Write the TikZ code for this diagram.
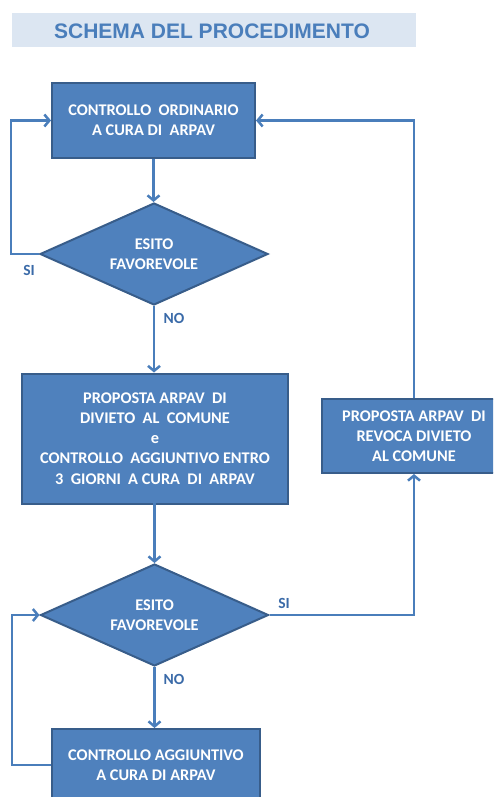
\documentclass[tikz,border=0pt]{standalone}
\usepackage{fontspec}
\setmainfont{Carlito}
\newfontfamily\titlefont{Liberation Sans}
\usetikzlibrary{shapes.geometric,arrows.meta}
\definecolor{boxfill}{HTML}{4F81BD}
\definecolor{boxline}{HTML}{385D8A}
\definecolor{conn}{HTML}{4A7EBB}
\definecolor{lbl}{HTML}{3A6AA8}
\definecolor{titlebg}{HTML}{DCE6F2}
\definecolor{titlefg}{HTML}{4A7EBB}
\tikzset{
  procbox/.style={rectangle, draw=boxline, fill=boxfill, line width=2pt, text=white,
    font=\fontsize{16.3}{20.2}\selectfont\bfseries, align=center, inner sep=0pt},
  decbox/.style={diamond, aspect=2.25, draw=boxline, fill=boxfill, line width=2pt, text=white,
    font=\fontsize{16.3}{20.2}\selectfont\bfseries, align=center, inner sep=0pt,
    minimum width=228pt, minimum height=102pt},
  conn/.style={draw=conn, line width=2.5pt, -{Straight Barb[length=5pt,width=12pt]}},
  lab/.style={text=lbl, font=\fontsize{15.5}{17}\selectfont\bfseries, inner sep=0pt}
}
\begin{document}
\begin{tikzpicture}[x=1pt,y=-1pt]
\useasboundingbox (0,0) rectangle (493,797);
\clip (0,0) rectangle (493,797);
\fill[titlebg] (12,13) rectangle (416,47);
\node[text=titlefg, font=\titlefont\fontsize{21}{24}\selectfont\bfseries, inner sep=0pt] (title) at (212,31) {SCHEMA DEL PROCEDIMENTO};

\node[procbox, minimum width=203pt, minimum height=75pt] (box1) at (153.5,120.5) {CONTROLLO\ \ ORDINARIO\\A CURA DI\ \ ARPAV};
\node[decbox] (d1) at (154,254) {ESITO\\FAVOREVOLE};
\node[procbox, minimum width=266pt, minimum height=130pt] (box2) at (155,438.5) {PROPOSTA ARPAV\ \ DI\\DIVIETO\ \ AL\ \ COMUNE\\e\\CONTROLLO\ \ AGGIUNTIVO ENTRO\\3\ \ GIORNI\ \ A CURA\ \ DI\ \ ARPAV};
\node[procbox, minimum width=184pt, minimum height=74pt] (rbox) at (414,436) {PROPOSTA ARPAV\ \ DI\\REVOCA DIVIETO\\AL COMUNE};
\node[decbox] (d2) at (154.5,615) {ESITO\\FAVOREVOLE};
\node[procbox, minimum width=208pt, minimum height=72pt] (box3) at (156,765) {CONTROLLO AGGIUNTIVO\\A CURA DI ARPAV};

\draw[conn] (box1.south) -- (box1.south |- d1.north);
\draw[conn] (d1.west) -- ++(-28,0) |- (box1.west);
\draw[conn] (d1.south) -- (d1.south |- box2.north);
\draw[conn] (box2.south) -- (box2.south -| d2.north) -- (d2.north);
\draw[conn] (d2.east) -| (rbox.south);
\draw[conn] (rbox.north) |- (box1.east);
\draw[conn] (d2.south) -- (d2.south |- box3.north);
\draw[conn] (box3.west) -- ++(-39,0) |- (d2.west);

\node[lab] (si1) at (29,270) {SI};
\node[lab] (no1) at (174,318) {NO};
\node[lab] (si2) at (284,603) {SI};
\node[lab] (no2) at (174,679) {NO};
\end{tikzpicture}
\end{document}
